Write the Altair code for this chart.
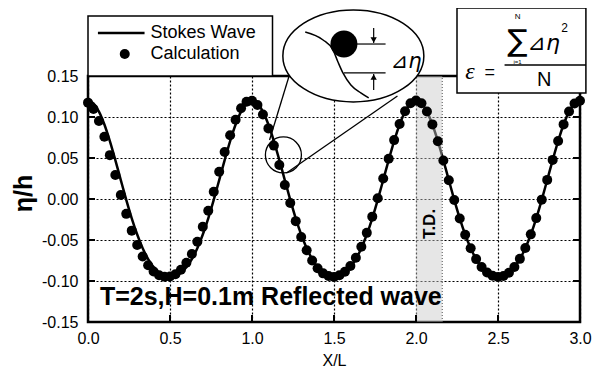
import altair as alt
import pandas as pd

# ---------------- data ----------------
x_pos = [round(i / 30, 4) for i in range(91)]   # sampling grid along X/L

stokes_eta = [
    0.1200, 0.1166, 0.1066, 0.0908, 0.0706, 0.0475, 0.0231, -0.0010, -0.0235, -0.0433,
    -0.0600, -0.0732, -0.0831, -0.0898, -0.0937, -0.0950, -0.0937, -0.0898, -0.0831, -0.0732,
    -0.0600, -0.0433, -0.0235, -0.0010, 0.0231, 0.0475, 0.0706, 0.0908, 0.1066, 0.1166,
    0.1200, 0.1166, 0.1066, 0.0908, 0.0706, 0.0475, 0.0231, -0.0010, -0.0235, -0.0433,
    -0.0600, -0.0732, -0.0831, -0.0898, -0.0937, -0.0950, -0.0937, -0.0898, -0.0831, -0.0732,
    -0.0600, -0.0433, -0.0235, -0.0010, 0.0231, 0.0475, 0.0706, 0.0908, 0.1066, 0.1166,
    0.1200, 0.1166, 0.1066, 0.0908, 0.0706, 0.0475, 0.0231, -0.0010, -0.0235, -0.0433,
    -0.0600, -0.0732, -0.0831, -0.0898, -0.0937, -0.0950, -0.0937, -0.0898, -0.0831, -0.0732,
    -0.0600, -0.0433, -0.0235, -0.0010, 0.0231, 0.0475, 0.0706, 0.0908, 0.1066, 0.1166,
    0.1200,
]

calc_eta = [
    0.1175, 0.1097, 0.0952, 0.0760, 0.0535, 0.0292, 0.0049, -0.0181, -0.0386, -0.0562,
    -0.0702, -0.0809, -0.0884, -0.0930, -0.0949, -0.0945, -0.0917, -0.0863, -0.0778, -0.0671,
    -0.0521, -0.0338, -0.0144, 0.0089, 0.0333, 0.0574, 0.0778, 0.0966, 0.1106, 0.1185,
    0.1198, 0.1147, 0.1031, 0.0861, 0.0651, 0.0415, 0.0170, -0.0049, -0.0270, -0.0463,
    -0.0624, -0.0751, -0.0844, -0.0907, -0.0939, -0.0950, -0.0930, -0.0888, -0.0818, -0.0716,
    -0.0582, -0.0413, -0.0215, 0.0010, 0.0250, 0.0490, 0.0718, 0.0915, 0.1070, 0.1168,
    0.1200, 0.1168, 0.1068, 0.0910, 0.0704, 0.0470, 0.0228, -0.0012, -0.0238, -0.0436,
    -0.0601, -0.0733, -0.0830, -0.0897, -0.0936, -0.0950, -0.0938, -0.0899, -0.0830, -0.0730,
    -0.0598, -0.0431, -0.0233, -0.0008, 0.0233, 0.0477, 0.0708, 0.0910, 0.1067, 0.1165,
    0.1198,
]

x_ticks = [0.0, 0.5, 1.0, 1.5, 2.0, 2.5, 3.0]
y_ticks = [-0.15, -0.10, -0.05, 0.0, 0.05, 0.10, 0.15]
td_zone = [2.0, 2.16]
series_names = ["Stokes Wave", "Calculation"]
case_label = "T=2s,H=0.1m Reflected wave"
td_label = "T.D."

# ---------------- helpers ----------------
W, H = 492, 246
FONT = "Liberation Sans"
XS = alt.Scale(domain=[0, 3], nice=False, zero=False, padding=0)
YS = alt.Scale(domain=[-0.15, 0.15], nice=False, zero=False, padding=0)
minus_fix = "replace(format(datum.value, '{f}'), '\u2212', '-')"

AXX = alt.Axis(
    values=x_ticks, labelExpr=minus_fix.format(f=".1f"), title="X/L",
    labelFontSize=16, labelPadding=8, labelFlush=False, titleFontSize=16,
    titleFontWeight="normal", titlePadding=6, ticks=False, domain=False, grid=True,
    gridColor="black", gridDash=[2, 2], gridWidth=1.2, labelColor="black",
    titleColor="black", labelFont=FONT, titleFont=FONT)
AXY = alt.Axis(
    values=y_ticks, labelExpr=minus_fix.format(f=".2f"), title="η/h",
    labelFontSize=16, labelPadding=10, labelFlush=False, titleFontSize=25,
    titleFontWeight="bold", titleX=-52, titleY=117, ticks=False, domain=False, grid=True,
    gridColor="black", gridDash=[2, 2], gridWidth=1.2, labelColor="black",
    titleColor="black", labelFont=FONT, titleFont=FONT)


def ex(field="x"):
    return alt.X(f"{field}:Q", scale=XS, axis=AXX)


def ey(field="y"):
    return alt.Y(f"{field}:Q", scale=YS, axis=AXY)


def segs(rows, **style):
    df = pd.DataFrame(rows, columns=["x", "y", "x2", "y2"])
    return alt.Chart(df).mark_rule(clip=False, **style).encode(
        x=ex(), y=ey(), x2="x2:Q", y2="y2:Q")


def texts(rows, **style):
    df = pd.DataFrame(rows, columns=["x", "y", "t"])
    return alt.Chart(df).mark_text(clip=False, **style).encode(
        x=ex(), y=ey(), text="t:N")


def points(rows, **style):
    df = pd.DataFrame(rows, columns=["x", "y"])
    return alt.Chart(df).mark_point(clip=False, opacity=1, **style).encode(x=ex(), y=ey())


wave = pd.DataFrame({"x": x_pos, "stokes": stokes_eta, "calc": calc_eta})

# shaded T.D. zone
td_df = pd.DataFrame({"x": [td_zone[0]], "x2": [td_zone[1]]})
td_rect = alt.Chart(td_df).mark_rect(color="#c8c8c8", opacity=0.45).encode(
    x=ex(), x2="x2:Q", y=alt.value(0), y2=alt.value(H))
td_edge = segs([(td_zone[1], -0.15, td_zone[1], 0.15)], color="#555555",
               strokeWidth=1, strokeDash=[1, 2])

line = alt.Chart(wave).mark_line(color="black", strokeWidth=2.5, interpolate="monotone").encode(
    x=ex(), y=ey("stokes"))

dots = alt.Chart(wave).mark_circle(color="black", size=100, opacity=1, clip=False).encode(
    x=ex(), y=ey("calc"))

# inward tick marks
yt = pd.DataFrame({"v": y_ticks})
xt = pd.DataFrame({"v": x_ticks})
tick_left = alt.Chart(yt).mark_rule(color="black", strokeWidth=2).encode(
    y=ey("v"), x=alt.value(0), x2=alt.value(7))
tick_right = alt.Chart(yt).mark_rule(color="black", strokeWidth=2).encode(
    y=ey("v"), x=alt.value(W - 7), x2=alt.value(W))
tick_bottom = alt.Chart(xt).mark_rule(color="black", strokeWidth=2).encode(
    x=ex("v"), y=alt.value(H - 7), y2=alt.value(H))

# zoom circle + connectors
small_circle = points([(1.1915, 0.0537)], shape="circle", filled=False, size=1296,
                      stroke="black", strokeWidth=1.3)
connectors = segs([(1.107, 0.072, 1.228, 0.1512), (1.210, 0.0317, 1.887, 0.1256)],
                  color="black", strokeWidth=1.3)

ELLIPSE = "M-1,0A1,0.652 0 1,1 1,0A1,0.652 0 1,1 -1,0Z"
ellipse = points([(1.618, 0.1744)], shape=ELLIPSE, filled=True, fill="white",
                 stroke="black", strokeWidth=1.5, size=141 ** 2)

s_curve_df = pd.DataFrame({
    "x": [1.3246, 1.4335, 1.4940, 1.5242, 1.5545, 1.6029, 1.6633, 1.7117],
    "y": [0.2037, 0.1939, 0.1817, 0.1671, 0.1537, 0.1390, 0.1293, 0.1232],
})
s_curve = alt.Chart(s_curve_df).mark_line(color="black", strokeWidth=1.5,
                                          interpolate="monotone", clip=False).encode(
    x=ex(), y=ey(), order="x:Q")
big_dot = points([(1.5605, 0.1890)], shape="circle", filled=True, color="black", size=729)
inset_lines = segs([(1.6331, 0.1890, 1.8145, 0.1890), (1.5605, 0.1537, 1.8145, 0.1537),
                    (1.7419, 0.2085, 1.7419, 0.1902), (1.7419, 0.1524, 1.7419, 0.1329)],
                   color="black", strokeWidth=1.2)
arrow_dn = points([(1.7419, 0.1939)], shape="triangle-down", filled=True, color="black", size=40)
arrow_up = points([(1.7419, 0.1488)], shape="triangle-up", filled=True, color="black", size=40)
delta_txt = texts([(1.845, 0.1671, "⊿η")], align="left", baseline="middle",
                  font="DejaVu Sans", fontSize=21, fontStyle="italic", color="black")

# legend box
legend_box_df = pd.DataFrame({"x": [0.0], "x2": [1.125], "y": [0.15], "y2": [0.2232]})
legend_box = alt.Chart(legend_box_df).mark_rect(fill="white", stroke="black", strokeWidth=1.5,
                                                clip=False).encode(
    x=ex(), x2="x2:Q", y=ey(), y2="y2:Q")
legend_line = segs([(0.0605, 0.2024, 0.3448, 0.2024)], color="black", strokeWidth=2.5)
legend_dot = points([(0.224, 0.1768)], shape="circle", filled=True, color="black", size=100)
legend_txt = texts([(0.381, 0.2024, series_names[0]), (0.381, 0.1768, series_names[1])],
                   align="left", baseline="middle", font=FONT, fontSize=18, color="black")

# formula box
f_box_df = pd.DataFrame({"x": [2.250], "x2": [3.036], "y": [0.1293], "y2": [0.2329]})
f_box = alt.Chart(f_box_df).mark_rect(fill="white", stroke="black", strokeWidth=1.5,
                                      clip=False).encode(
    x=ex(), x2="x2:Q", y=ey(), y2="y2:Q")
f_bar = segs([(2.540, 0.1634, 3.036, 0.1634)], color="black", strokeWidth=1.3)
f_eps = texts([(2.3287, 0.1549, "ε")], align="center", baseline="middle",
              font="Liberation Serif", fontSize=24, fontStyle="italic", color="black")
f_eq = texts([(2.4496, 0.1537, "=")], align="center", baseline="middle",
             font=FONT, fontSize=18, color="black")
f_sigma = texts([(2.619, 0.1915, "∑")], align="center", baseline="middle",
                font="DejaVu Sans", fontSize=30, color="black")
f_top = texts([(2.619, 0.2225, "N")], align="center", baseline="middle",
              font=FONT, fontSize=8, color="black")
f_low = texts([(2.619, 0.1672, "i=1")], align="center", baseline="middle",
              font=FONT, fontSize=6, color="black")
f_num = texts([(2.680, 0.1902, "⊿η")], align="left", baseline="middle",
              font="DejaVu Sans", fontSize=22, fontStyle="italic", color="black")
f_sq = texts([(2.885, 0.2090, "2")], align="left", baseline="middle",
             font=FONT, fontSize=12, color="black")
f_den = texts([(2.782, 0.1451, "N")], align="center", baseline="middle",
              font=FONT, fontSize=20, color="black")

case_txt = texts([(0.0726, -0.1195, case_label)], align="left", baseline="middle",
                 font=FONT, fontSize=25, fontWeight="bold", color="black")
td_txt = texts([(2.087, -0.0305, td_label)], align="center", baseline="middle",
               angle=270, font=FONT, fontSize=17, fontWeight="bold", color="black")

chart = alt.layer(
    line, td_rect, td_edge, dots, tick_left, tick_right, tick_bottom,
    connectors, small_circle, ellipse, s_curve, big_dot, inset_lines, arrow_dn, arrow_up,
    delta_txt, legend_box, legend_line, legend_dot, legend_txt,
    f_box, f_bar, f_eps, f_eq, f_sigma, f_top, f_low, f_num, f_sq, f_den,
    case_txt, td_txt,
).properties(
    width=W, height=H,
    autosize=alt.AutoSizeParams(type="none"),
    padding={"left": 80, "top": 68, "right": 12, "bottom": 46},
    background="white",
).configure_view(
    stroke="black", strokeWidth=2.5,
)

chart.save("out.html", embed_options={"renderer": "svg", "actions": False})
